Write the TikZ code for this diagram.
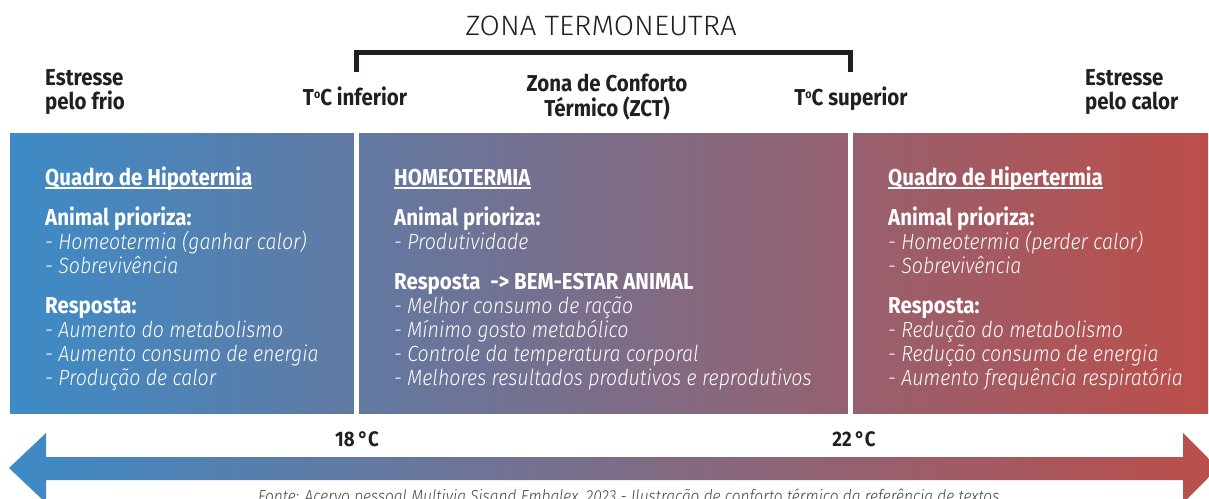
\documentclass[tikz,border=0pt]{standalone}
\usepackage{fontspec}
\setmainfont{Fira Sans}[FakeStretch=0.89,BoldFont={Fira Sans Bold},ItalicFont={Fira Sans Light Italic}]
\newfontfamily\lightfont{Fira Sans Light}[FakeStretch=1.05]
\newfontfamily\itemfont{Fira Sans Light Italic}[FakeStretch=0.89]
\definecolor{cblue}{HTML}{3D8BC7}
\definecolor{cmid}{HTML}{786B8A}
\definecolor{cred}{HTML}{BC4E4A}
\definecolor{ink}{HTML}{231F20}
\definecolor{note}{HTML}{444444}
\begin{document}
\begin{tikzpicture}[x=1pt,y=-1pt,
  lbl/.style={inner sep=0pt,anchor=base west,text=ink,font=\fontsize{23}{27}\selectfont\bfseries},
  hd/.style={inner sep=0pt,anchor=base west,text=white,font=\fontsize{23}{27}\selectfont\bfseries},
  itm/.style={inner sep=0pt,anchor=base west,text=white,font=\itemfont\fontsize{22}{26}\selectfont},
  ulin/.style={white,line width=1.4pt},
  gap/.style={fill=white,draw=none},
]
\useasboundingbox (0,0) rectangle (1209,498);
\clip (0,0) rectangle (1209,498);

% top title and bracket
\node[inner sep=0pt,anchor=base,text=ink,font=\lightfont\fontsize{28}{31}\selectfont] (zt) at (601,35) {ZONA TERMONEUTRA};
\coordinate (bl) at (356,72);
\coordinate (br) at (850.5,72);
\draw[ink,line width=5pt] (bl) -- (bl |- 0,52.5) -- (br |- 0,52.5) -- (br);

% top labels
\node[lbl] (cold1) at (45,85) {Estresse};
\node[lbl] (cold2) at (45,109) {pelo frio};
\node[lbl,anchor=base] (tinf) at (355,105) {T\raisebox{0.55ex}{\fontsize{12}{12}\selectfont o}C inferior};
\node[lbl,anchor=base] (zct1) at (607,91) {Zona de Conforto};
\node[lbl,anchor=base] (zct2) at (607,116) {Térmico (ZCT)};
\node[lbl,anchor=base] (tsup) at (851,105) {T\raisebox{0.55ex}{\fontsize{12}{12}\selectfont o}C superior};
\node[lbl] (hot1) at (1085,85) {Estresse};
\node[lbl] (hot2) at (1085,109) {pelo calor};

% panels
\shade[left color=cblue,middle color=cmid,right color=cred] (10,133) rectangle (1208,413);
\fill[gap] (354,132) rectangle (359,414);
\fill[gap] (848,132) rectangle (853,414);

% left panel
\node[hd] (lt) at (45,185) {Quadro de Hipotermia};
\draw[ulin] ([yshift=-3pt]lt.base west) -- ([yshift=-3pt]lt.base east);
\node[hd] (la) at (45,225) {Animal prioriza:};
\node[itm] (la1) at (45,249) {- Homeotermia (ganhar calor)};
\node[itm] (la2) at (45,273) {- Sobrevivência};
\node[hd] (lr) at (45,313) {Resposta:};
\node[itm] (lr1) at (45,337) {- Aumento do metabolismo};
\node[itm] (lr2) at (45,361) {- Aumento consumo de energia};
\node[itm] (lr3) at (45,385) {- Produção de calor};

% middle panel
\node[hd] (mt) at (394,185) {HOMEOTERMIA};
\draw[ulin] ([yshift=-3pt]mt.base west) -- ([yshift=-3pt]mt.base east);
\node[hd] (ma) at (394,225) {Animal prioriza:};
\node[itm] (ma1) at (394,249) {- Produtividade};
\node[hd] (mr) at (394,289) {Resposta \ -> BEM-ESTAR ANIMAL};
\node[itm] (mr1) at (394,313) {- Melhor consumo de ração};
\node[itm] (mr2) at (394,337) {- Mínimo gosto metabólico};
\node[itm] (mr3) at (394,361) {- Controle da temperatura corporal};
\node[itm] (mr4) at (394,385) {- Melhores resultados produtivos e reprodutivos};

% right panel
\node[hd] (rt) at (888,185) {Quadro de Hipertermia};
\draw[ulin] ([yshift=-3pt]rt.base west) -- ([yshift=-3pt]rt.base east);
\node[hd] (ra) at (888,225) {Animal prioriza:};
\node[itm] (ra1) at (888,249) {- Homeotermia (perder calor)};
\node[itm] (ra2) at (888,273) {- Sobrevivência};
\node[hd] (rr) at (888,313) {Resposta:};
\node[itm] (rr1) at (888,337) {- Redução do metabolismo};
\node[itm] (rr2) at (888,361) {- Redução consumo de energia};
\node[itm] (rr3) at (888,385) {- Aumento frequência respiratória};

% temperatures
\node[lbl,anchor=base,font=\fontsize{21}{25}\selectfont\bfseries] (t18) at (357,446) {18\,°C};
\node[lbl,anchor=base,font=\fontsize{21}{25}\selectfont\bfseries] (t22) at (854,446) {22\,°C};

% double arrow
\shade[left color=cblue,middle color=cmid,right color=cred]
  (9,468) -- (46,433) -- (46,457) -- (1183,457) -- (1183,433) -- (1218,468)
  -- (1183,503) -- (1183,480) -- (46,480) -- (46,503) -- cycle;

% source note (cut by the lower edge, as in the reference)
\node[inner sep=0pt,anchor=base west,text=note,font=\itemfont\fontsize{17.4}{19}\selectfont] (src) at (258,502)
  {Fonte: Acervo pessoal Multivia Sisand Embalex, 2023 - Ilustração de conforto térmico da referência de textos};
\end{tikzpicture}
\end{document}
